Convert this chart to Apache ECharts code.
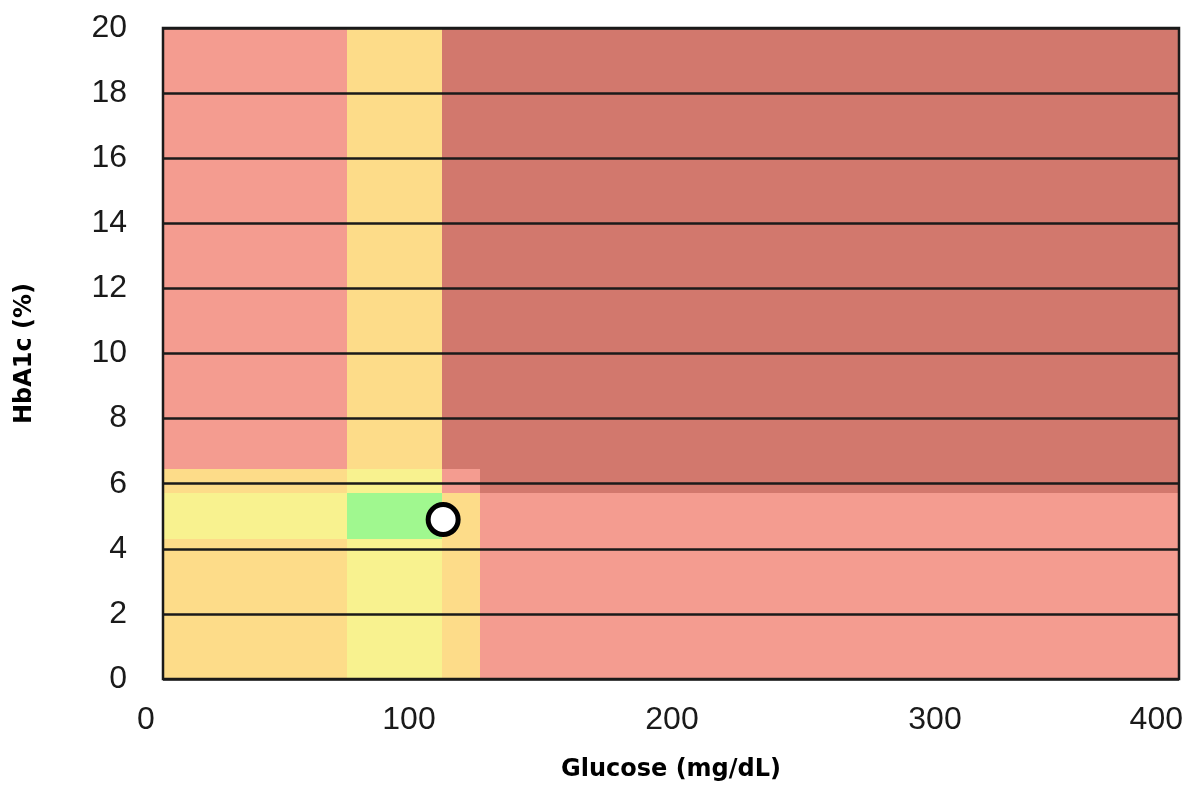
<!DOCTYPE html>
<html>
<head>
<meta charset="utf-8">
<script src="https://cdn.jsdelivr.net/npm/echarts@6/dist/echarts.min.js"></script>
<style>
html,body{margin:0;padding:0;background:#ffffff;}
#chart{width:1194px;height:785px;}
</style>
</head>
<body>
<div id="chart"></div>
<script>
// Glucose (mg/dL) zone edges, left to right (plot starts/ends at first/last)
const glucoseEdges = [6.4, 76.5, 112.5, 127.0, 393.0];
// HbA1c (%) zone edges, bottom to top
const hba1cEdges = [0, 4.3, 5.7, 6.45, 20];
// Zone risk level per cell: rows = HbA1c bands (bottom to top), cols = glucose bands
const zoneLevels = [
  [2, 1, 2, 3],
  [1, 0, 2, 3],
  [2, 1, 3, 4],
  [3, 2, 4, 4]
];
// Colours by level: 0 green, 1 light yellow, 2 amber, 3 salmon, 4 dark red
const zoneColors = ['#A0F88F', '#F8F28F', '#FDDC89', '#F49C90', '#D2786D'];
// Tick labels
const xTickValues = [0, 100, 200, 300, 400];
const yTickValues = [0, 2, 4, 6, 8, 10, 12, 14, 16, 18, 20];
// Patient reading
const patientGlucose = [113.0];
const patientHbA1c = [4.9];

const rects = [];
for (let r = 0; r < zoneLevels.length; r++) {
  for (let c = 0; c < zoneLevels[r].length; c++) {
    rects.push([glucoseEdges[c], glucoseEdges[c + 1], hba1cEdges[r], hba1cEdges[r + 1], zoneLevels[r][c]]);
  }
}
const points = patientGlucose.map((g, i) => [g, patientHbA1c[i]]);

const tickFont = 'Liberation Sans, Arial, sans-serif';
const titleFont = 'DejaVu Sans, Verdana, sans-serif';
const xMax = xTickValues[xTickValues.length - 1];

const chart = echarts.init(document.getElementById('chart'), null, {renderer: 'canvas'});
chart.setOption({
  animation: false,
  backgroundColor: '#ffffff',
  grid: [
    {left: 163, top: 28, width: 1016, height: 651, outerBoundsMode: 'none', containLabel: false,
     show: true, borderColor: '#1a1a1a', borderWidth: 2.5, backgroundColor: 'transparent', z: 5},
    {left: 146, top: 28, width: 1052, height: 651, outerBoundsMode: 'none', containLabel: false, show: false}
  ],
  xAxis: [
    {
      gridIndex: 0, type: 'value', min: glucoseEdges[0], max: glucoseEdges[glucoseEdges.length - 1],
      axisLine: {show: false}, axisTick: {show: false}, axisLabel: {show: false}, splitLine: {show: false},
      name: 'Glucose (mg/dL)', nameLocation: 'middle', nameGap: 79,
      nameTextStyle: {fontFamily: titleFont, fontWeight: 'bold', fontSize: 24, color: '#000000'}
    },
    {
      gridIndex: 1, type: 'value', min: xTickValues[0], max: xMax, interval: 100,
      axisLine: {show: false}, axisTick: {show: false}, splitLine: {show: false},
      axisLabel: {
        margin: 25, fontSize: 32, fontFamily: tickFont, color: '#1a1a1a',
        alignMaxLabel: 'right',
        formatter: v => v === xMax ? '{last|' + v + '}' : '{n|' + v + '}',
        rich: {
          n: {fontSize: 32, fontFamily: tickFont, color: '#1a1a1a'},
          last: {fontSize: 32, fontFamily: tickFont, color: '#1a1a1a', padding: [0, 15, 0, 0]}
        }
      }
    }
  ],
  yAxis: [
    {
      gridIndex: 0, type: 'value', min: yTickValues[0], max: yTickValues[yTickValues.length - 1], interval: 2,
      z: 5,
      axisLine: {show: false}, axisTick: {show: false},
      splitLine: {show: true, lineStyle: {color: '#1a1a1a', width: 2.5}},
      axisLabel: {margin: 36, fontSize: 32, fontFamily: tickFont, color: '#1a1a1a'},
      name: 'HbA1c (%)', nameLocation: 'middle', nameGap: 126, nameRotate: 90,
      nameTextStyle: {fontFamily: titleFont, fontWeight: 'bold', fontSize: 24, color: '#000000'}
    },
    {gridIndex: 1, type: 'value', min: 0, max: 20, show: false}
  ],
  series: [
    {
      type: 'custom', xAxisIndex: 0, yAxisIndex: 0, z: 1, silent: true,
      encode: {x: [0, 1], y: [2, 3]},
      data: rects,
      renderItem: function (params, api) {
        const p0 = api.coord([api.value(0), api.value(2)]);
        const p1 = api.coord([api.value(1), api.value(3)]);
        const x0 = Math.round(p0[0]), x1 = Math.round(p1[0]);
        const y0 = Math.round(p0[1]), y1 = Math.round(p1[1]);
        return {
          type: 'rect',
          shape: {x: x0, y: y1, width: x1 - x0, height: y0 - y1},
          style: {fill: zoneColors[api.value(4)]}
        };
      }
    },
    {
      type: 'scatter', xAxisIndex: 0, yAxisIndex: 0, z: 10, silent: true,
      symbol: 'circle', symbolSize: 30,
      itemStyle: {color: '#ffffff', borderColor: '#000000', borderWidth: 5, opacity: 1},
      data: points
    }
  ]
});
</script>
</body>
</html>
